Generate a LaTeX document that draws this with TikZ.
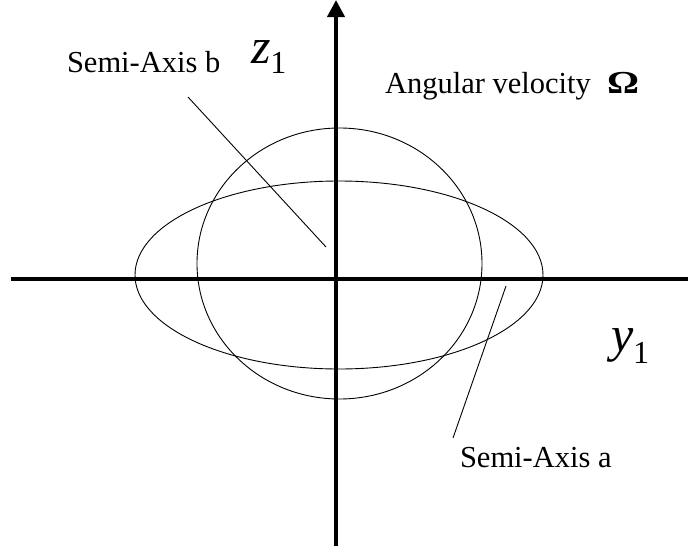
\documentclass[tikz,border=0pt]{standalone}
\usepackage{fontspec}
\setmainfont{Liberation Serif}
\usetikzlibrary{arrows.meta}
\tikzset{
  axisline/.style={line width=4pt},
  thinline/.style={line width=0.9pt},
  lbl/.style={inner sep=0pt, outer sep=0pt, anchor=base west, font=\fontsize{30.5}{36}\selectfont},
  sym/.style={inner sep=0pt, outer sep=0pt, anchor=base west}
}
\begin{document}
\begin{tikzpicture}[x=1pt,y=-1pt]
\useasboundingbox (0,0) rectangle (688,546);
% axes
\coordinate (yL) at (11,279);
\coordinate (yR) at (688,279);
\coordinate (zB) at (336,546);
\coordinate (zT) at (336,0);
\draw[axisline] (yL) -- (yR);
\draw[axisline, -{Triangle[width=17pt,length=17pt]}] (zB) -- (zT);
% circle and ellipse
\draw[thinline] (339.5,263.5) ellipse [x radius=142.5, y radius=135.5];
\draw[thinline] (339,275) ellipse [x radius=204, y radius=94];
% labels
\node[lbl] (sab) at (67,72) {Semi-Axis b};
\node[lbl] (saa) at (460,467) {Semi-Axis a};
\node[lbl] (ang) at (385,93) {Angular velocity};
\node[sym] (om) at (607,93) {\fontsize{32}{40}\selectfont\bfseries\scalebox{1.25}[1]{Ω}};
\node[sym] (z1) at (251,63) {\fontsize{50}{56}\selectfont\itshape z\fontsize{32}{36}\selectfont\upshape\raisebox{-10pt}{1}};
\node[sym] (y1) at (611,351) {\fontsize{50}{56}\selectfont\itshape y\fontsize{32}{36}\selectfont\upshape\raisebox{-12pt}{1}};
% leader lines
\coordinate (bS) at (188,97);
\coordinate (bE) at (326,247);
\coordinate (aS) at (506,286);
\coordinate (aE) at (453,438);
\draw[thinline] (bS) -- (bE);
\draw[thinline] (aS) -- (aE);
\end{tikzpicture}
\end{document}
